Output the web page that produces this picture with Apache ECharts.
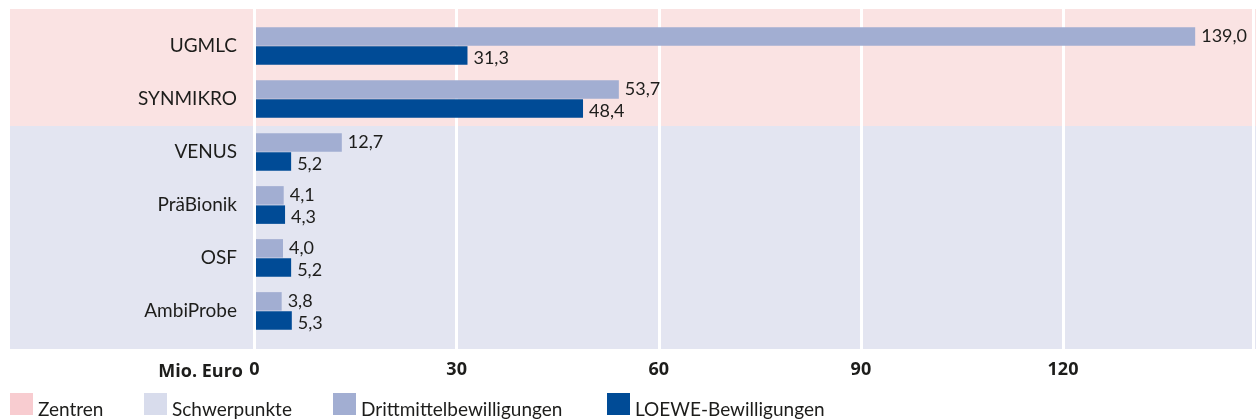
<!DOCTYPE html>
<html>
<head>
<meta charset="utf-8">
<script src="https://cdn.jsdelivr.net/npm/echarts@6/dist/echarts.min.js"></script>
<style>
html,body{margin:0;padding:0;background:#fff;}
#chart{width:1256px;height:420px;}
</style>
</head>
<body>
<div id="chart"></div>
<script>
const categories = ['UGMLC', 'SYNMIKRO', 'VENUS', 'PräBionik', 'OSF', 'AmbiProbe'];
const drittmittel = [139.0, 53.7, 12.7, 4.1, 4.0, 3.8];
const loewe = [31.3, 48.4, 5.2, 4.3, 5.2, 5.3];
const xTicks = [0, 30, 60, 90, 120];
const legendNames = ['Zentren', 'Schwerpunkte', 'Drittmittelbewilligungen', 'LOEWE-Bewilligungen'];

const FONT = 'Lato, "Open Sans", sans-serif';
const BOLD = '"Open Sans", sans-serif';
const TXT = '#1d1d1b';
const fmt = v => v.toFixed(1).replace('.', ',');

const legendLefts = [10, 144, 333, 607];
const legends = legendNames.map((n, i) => ({
  left: legendLefts[i], top: 393, padding: 0,
  icon: 'rect', itemWidth: 23, itemHeight: 22,
  data: [n],
  selectedMode: false,
  formatter: name => '{t|' + name + '}',
  textStyle: {fontFamily: FONT, fontSize: 19, color: TXT,
    rich: {t: {fontFamily: FONT, fontSize: 19, color: TXT, padding: [11, 0, 0, 0]}}}
}));

const chart = echarts.init(document.getElementById('chart'), null, {renderer: 'canvas'});
chart.setOption({
  animation: false,
  color: ['#f8ccd0', '#d8dcec', '#a2aed2', '#004b96'],
  textStyle: {fontFamily: FONT},
  graphic: [
    {type: 'rect', z: -10, shape: {x: 10, y: 9, width: 1246, height: 117}, style: {fill: '#fae3e3'}},
    {type: 'rect', z: -10, shape: {x: 10, y: 126, width: 1246, height: 223}, style: {fill: '#e3e5f1'}},
    {type: 'text', x: 243, y: 372, style: {text: 'Mio. Euro', align: 'right', verticalAlign: 'middle',
      fontFamily: BOLD, fontWeight: 'bold', fontSize: 18, fill: TXT}}
  ],
  legend: legends,
  grid: [
    {left: 256, right: 0, top: 19.5, bottom: 82.5},
    {left: 254.5, right: 0, top: 9, bottom: 71}
  ],
  xAxis: [
    {gridIndex: 0, type: 'value', min: 0, max: 148, interval: 30, show: false, splitLine: {show: false}},
    {gridIndex: 1, type: 'value', min: 0, max: 148.2, interval: 30,
      axisLine: {show: false}, axisTick: {show: false},
      splitLine: {show: true, lineStyle: {color: '#ffffff', width: 3}},
      axisLabel: {margin: 12, fontFamily: BOLD, fontWeight: 'bold', fontSize: 18, color: TXT,
        formatter: v => xTicks.includes(v) ? String(v) : ''}}
  ],
  yAxis: [
    {gridIndex: 0, type: 'category', data: categories, inverse: true,
      axisLine: {show: false}, axisTick: {show: false}, splitLine: {show: false},
      axisLabel: {margin: 19, fontFamily: FONT, fontSize: 19, color: TXT}},
    {gridIndex: 1, type: 'value', show: false, splitLine: {show: false}}
  ],
  series: [
    {name: 'Zentren', type: 'line', xAxisIndex: 1, yAxisIndex: 1, data: []},
    {name: 'Schwerpunkte', type: 'line', xAxisIndex: 1, yAxisIndex: 1, data: []},
    {name: 'Drittmittelbewilligungen', type: 'bar', xAxisIndex: 0, yAxisIndex: 0,
      data: drittmittel, barWidth: 18.5, barGap: '4%', z: 3,
      itemStyle: {color: '#a2aed2'},
      label: {show: true, position: 'right', distance: 6, fontFamily: FONT, fontSize: 18, color: TXT,
        formatter: p => fmt(p.value)}},
    {name: 'LOEWE-Bewilligungen', type: 'bar', xAxisIndex: 0, yAxisIndex: 0,
      data: loewe, barWidth: 18.5, barGap: '4%', z: 3,
      itemStyle: {color: '#004b96'},
      label: {show: true, position: 'right', distance: 6, offset: [0, 3], fontFamily: FONT, fontSize: 18, color: TXT,
        formatter: p => fmt(p.value)}}
  ]
});
</script>
</body>
</html>
